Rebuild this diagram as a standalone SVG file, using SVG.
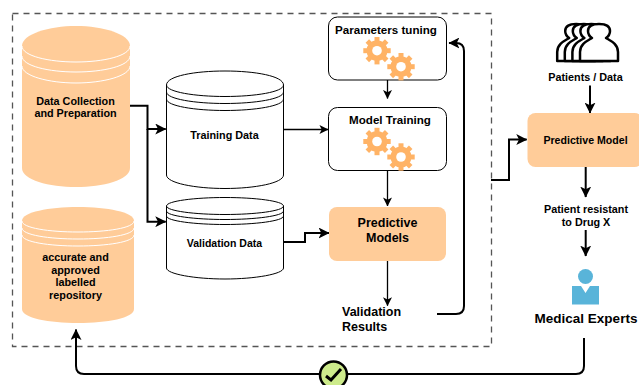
<svg xmlns="http://www.w3.org/2000/svg" width="639" height="385" viewBox="0 0 639 385">
<style>
text{font-family:"Liberation Sans",Arial,sans-serif;font-weight:700;fill:#000;text-anchor:middle;font-size:10.800px}
.c{fill:none;stroke:#000;stroke-width:2}
.t{fill:none;stroke:#000;stroke-width:1.300}
.o{fill:#ffcc99}
.wl{fill:none;stroke:#fff;stroke-width:1}
.bl{fill:none;stroke:#000;stroke-width:1}
.box{fill:#fff;stroke:#000;stroke-width:1}
.gear{fill:#ffb366}
.p{fill:#fff;stroke:#000;stroke-width:2.500;stroke-linejoin:round}
</style>
<defs>
<marker id="a" viewBox="0 0 10 10" refX="9.500" refY="5" markerWidth="11" markerHeight="11" orient="auto" markerUnits="userSpaceOnUse"><path d="M0 0L10 5L0 10L2.500 5Z" fill="#000"/></marker>
<marker id="s" viewBox="0 0 10 10" refX="9.500" refY="5" markerWidth="9" markerHeight="9" orient="auto" markerUnits="userSpaceOnUse"><path d="M0 0L10 5L0 10L2.500 5Z" fill="#000"/></marker>
<g id="g">
<circle class="gear" r="10.500"/>
<rect class="gear" x="-2.500" y="-13.700" width="5" height="27.400"/>
<rect class="gear" x="-2.500" y="-13.700" width="5" height="27.400" transform="rotate(45)"/>
<rect class="gear" x="-2.500" y="-13.700" width="5" height="27.400" transform="rotate(90)"/>
<rect class="gear" x="-2.500" y="-13.700" width="5" height="27.400" transform="rotate(135)"/>
<circle r="4.800" fill="#fff"/>
</g>
<path id="person" d="M580 61V52C580 44 587 41 592 38C589 36 588 34 588 31C588 26 593 24 599 24C605 24 610 26 610 31C610 34 609 36 606 38C611 41 618 44 618 52V61Z"/>
</defs>
<rect id="boundary" x="12.500" y="13.500" width="479" height="333" fill="none" stroke="#555" stroke-width="1.300" stroke-dasharray="6 5"/>
<g id="connectors">
<path class="c" d="M130 105.700H147.500V129H165.700" marker-end="url(#a)"/>
<path class="c" d="M147.500 129V221.700H165.700" marker-end="url(#a)"/>
<path class="t" d="M284 129.500H328" marker-end="url(#s)"/>
<path class="c" d="M284 242H305V233H329" marker-end="url(#a)"/>
<path class="t" d="M387.500 80V98.500" marker-end="url(#s)"/>
<path class="t" d="M387.500 171V206" marker-end="url(#s)"/>
<path class="t" d="M387.500 261V305.700" marker-end="url(#s)"/>
<path class="c" d="M437 314H456Q464 314 464 306V51Q464 43 456 43H449" marker-end="url(#a)"/>
<path class="c" d="M491 180H509V139.500H526.700" marker-end="url(#a)"/>
<path class="c" d="M590 85.500V113" marker-end="url(#a)"/>
<path class="c" d="M585.700 167V197" marker-end="url(#a)"/>
<path class="c" d="M585.700 230V256" marker-end="url(#a)"/>
<path class="c" d="M584 338V366Q584 374 576 374H84Q76 374 76 366V329.500" marker-end="url(#a)"/>
</g>
<g id="data-collection">
<path class="o" d="M22 46C22 34 49 26 76 26C103 26 130 34 130 46V168C130 180 103 187 76 187C49 187 22 180 22 168Z"/>
<path class="wl" d="M22 46C22 56 49 62 76 62C103 62 130 56 130 46M22 56C22 66 49 72 76 72C103 72 130 66 130 56M22 66C22 76 49 83 76 83C103 83 130 76 130 66"/>
<text x="75.500" y="105">Data Collection</text><text x="75.500" y="117">and Preparation</text>
</g>
<g id="repository">
<path class="o" d="M22 221C22 212 49 207 78 207C107 207 134 212 134 221V309C134 318 107 323 78 323C49 323 22 318 22 309Z"/>
<path class="wl" d="M22 221C22 228 49 232 78 232C107 232 134 228 134 221M22 228C22 235 49 239 78 239C107 239 134 235 134 228M22 235C22 242 49 246 78 246C107 246 134 242 134 235"/>
<text x="75.500" y="261">accurate and</text><text x="75.500" y="273.500">approved</text><text x="75.500" y="286">labelled</text><text x="75.500" y="299">repository</text>
</g>
<g id="training-data">
<path class="box" d="M166.500 85C166.500 76 195 71 225 71C255 71 283.500 76 283.500 85V175C283.500 183 255 188.500 225 188.500C195 188.500 166.500 183 166.500 175Z"/>
<path class="bl" d="M166.500 85C166.500 92 195 96.500 225 96.500C255 96.500 283.500 92 283.500 85M166.500 92C166.500 99 195 103.500 225 103.500C255 103.500 283.500 99 283.500 92M166.500 99C166.500 106 195 110.500 225 110.500C255 110.500 283.500 106 283.500 99"/>
<text x="224.500" y="139">Training Data</text>
</g>
<g id="validation-data">
<path class="box" d="M166.500 206C166.500 201 195 197.500 225 197.500C255 197.500 283.500 201 283.500 206V268C283.500 274 255 279 225 279C195 279 166.500 274 166.500 268Z"/>
<path class="bl" d="M166.500 206C166.500 211 195 214.500 225 214.500C255 214.500 283.500 211 283.500 206M166.500 211C166.500 216 195 219.500 225 219.500C255 219.500 283.500 216 283.500 211M166.500 216C166.500 221 195 224.500 225 224.500C255 224.500 283.500 221 283.500 216"/>
<text x="224.500" y="247" style="font-size:10.500px">Validation Data</text>
</g>
<g id="parameters-tuning">
<rect class="box" x="328.500" y="17" width="118" height="63" rx="9"/>
<text x="386" y="34" style="font-size:11.600px">Parameters tuning</text>
<use href="#g" x="377" y="50.700"/><use href="#g" x="401" y="66.700"/>
</g>
<g id="model-training">
<rect class="box" x="328.500" y="107.500" width="118" height="63" rx="9"/>
<text x="390" y="124" style="font-size:11.600px">Model Training</text>
<use href="#g" x="377" y="141.500"/><use href="#g" x="401" y="157"/>
</g>
<g id="predictive-models">
<rect class="o" x="329" y="207" width="117" height="54" rx="8"/>
<text x="387.500" y="227" style="font-size:12.500px">Predictive</text><text x="387.500" y="241.500" style="font-size:12.500px">Models</text>
</g>
<g id="validation-results">
<text x="342" y="316" style="text-anchor:start;font-size:12.500px">Validation</text><text x="342" y="331" style="text-anchor:start;font-size:12.500px">Results</text>
</g>
<g id="patients">
<use href="#person" class="p" x="-22.800"/>
<use href="#person" class="p" x="-15.200"/>
<use href="#person" class="p" x="-7.600"/>
<use href="#person" class="p"/>
<text x="585.500" y="81">Patients / Data</text>
</g>
<g id="predictive-model">
<rect class="o" x="527.500" y="113" width="115" height="54" rx="8"/>
<text x="585.500" y="144" style="font-size:10.600px">Predictive Model</text>
</g>
<g id="patient-resistant">
<text x="586" y="213">Patient resistant</text><text x="586" y="226">to Drug X</text>
</g>
<g id="medical-experts">
<circle cx="585.500" cy="276.500" r="7.500" fill="#59b4d9"/>
<path d="M572 286H581L585.500 293L590 286H599V304.500H572Z" fill="#59b4d9"/>
<text x="586" y="323" style="font-size:13.500px">Medical Experts</text>
</g>
<g id="check">
<circle cx="333.500" cy="375" r="13.500" fill="#cdeb8b" stroke="#000" stroke-width="2.500"/>
<path d="M326 376L331 380L341 369" fill="none" stroke="#000" stroke-width="3"/>
</g>
</svg>
